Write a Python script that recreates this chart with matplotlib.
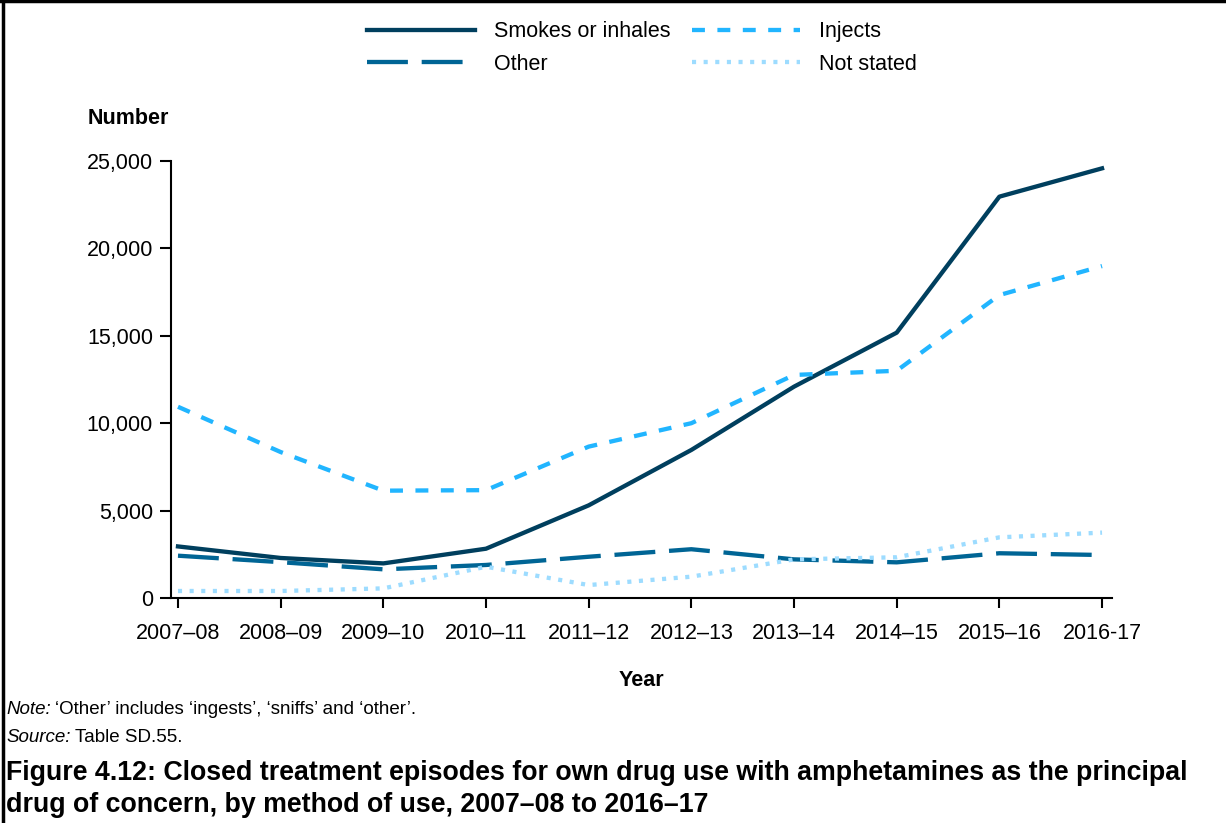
import matplotlib
matplotlib.use("Agg")
import matplotlib.pyplot as plt
from matplotlib.lines import Line2D
from matplotlib.ticker import FuncFormatter

plt.rcParams['font.family'] = ['Liberation Sans', 'DejaVu Sans']

years = ["2007–08", "2008–09", "2009–10", "2010–11", "2011–12",
         "2012–13", "2013–14", "2014–15", "2015–16", "2016-17"]
smokes = [2950, 2290, 1980, 2820, 5300, 8470, 12090, 15180, 22960, 24580]
injects = [10940, 8350, 6140, 6170, 8660, 10000, 12760, 13000, 17330, 18990]
other = [2420, 2050, 1640, 1890, 2360, 2790, 2210, 2040, 2560, 2460]
not_stated = [400, 400, 550, 1790, 740, 1220, 2210, 2330, 3470, 3740]
y_ticks = [0, 5000, 10000, 15000, 20000, 25000]

W, H = 1226, 823
fig = plt.figure(figsize=(W / 100, H / 100), dpi=100)
ax = fig.add_axes([171 / W, 1 - 598 / H, (1112 - 171) / W, (598 - 161) / H])

x = list(range(len(years)))
LW = 3.1
l1, = ax.plot(x, smokes, color='#003f5e', lw=LW)
l2, = ax.plot(x, injects, color='#21b5ff', lw=LW, dashes=(3.0, 2.9))
l3, = ax.plot(x, other, color='#006595', lw=LW, dashes=(9.5, 3.2))
l4, = ax.plot(x, not_stated, color='#9ddcff', lw=LW, dashes=(0.95, 1.75))

ax.set_xlim(-0.068, 9.097)
ax.set_ylim(0, 25000)
ax.set_xticks(x)
ax.set_xticklabels(years)
ax.set_yticks(y_ticks)
ax.yaxis.set_major_formatter(FuncFormatter(lambda v, p: f"{int(v):,}"))
for s in ['top', 'right']:
    ax.spines[s].set_visible(False)
for s in ['left', 'bottom']:
    ax.spines[s].set_linewidth(1.5)
FS = 15.5
ax.tick_params(axis='x', length=7, width=1.5, labelsize=FS, pad=11)
ax.tick_params(axis='y', length=8, width=1.5, labelsize=FS, pad=5)

fig.text(88 / W, 1 - 118 / H, "Number", fontsize=FS, fontweight='bold', va='center', ha='left')
fig.text(641 / W, 1 - 680 / H, "Year", fontsize=FS, fontweight='bold', va='center', ha='center')

leg = fig.legend([l1, l3, l2, l4], ["Smokes or inhales", "Other", "Injects", "Not stated"],
                 loc='center', bbox_to_anchor=(642 / W, 1 - 48 / H), ncol=2, frameon=False,
                 fontsize=FS, handlelength=5.0, handletextpad=0.9, columnspacing=1.0,
                 labelspacing=0.55)

NF = 13.5
t_note = fig.text(6 / W, 1 - 709 / H, "Note:", fontsize=NF, style='italic', va='center', ha='left')
ax.annotate("‘Other’ includes ‘ingests’, ‘sniffs’ and ‘other’.", xy=(1, 0.5), xycoords=t_note,
            xytext=(3, 0), textcoords='offset points', fontsize=NF, va='center', ha='left',
            annotation_clip=False)
t_src = fig.text(6 / W, 1 - 738 / H, "Source:", fontsize=NF, style='italic', va='center', ha='left')
ax.annotate("Table SD.55.", xy=(1, 0.5), xycoords=t_src,
            xytext=(3, 0), textcoords='offset points', fontsize=NF, va='center', ha='left',
            annotation_clip=False)
fig.text(6 / W, 1 - 789 / H,
         "Figure 4.12: Closed treatment episodes for own drug use with amphetamines as the principal\n"
         "drug of concern, by method of use, 2007–08 to 2016–17",
         fontsize=19.3, fontweight='bold', va='center', ha='left', linespacing=1.25)

fig.add_artist(Line2D([2.5 / W, 2.5 / W], [0, 1], color='black', lw=2.5, transform=fig.transFigure))
fig.add_artist(Line2D([0, 1], [1 - 1 / H, 1 - 1 / H], color='black', lw=2.5, transform=fig.transFigure))

fig.savefig("out.png", dpi=100)
